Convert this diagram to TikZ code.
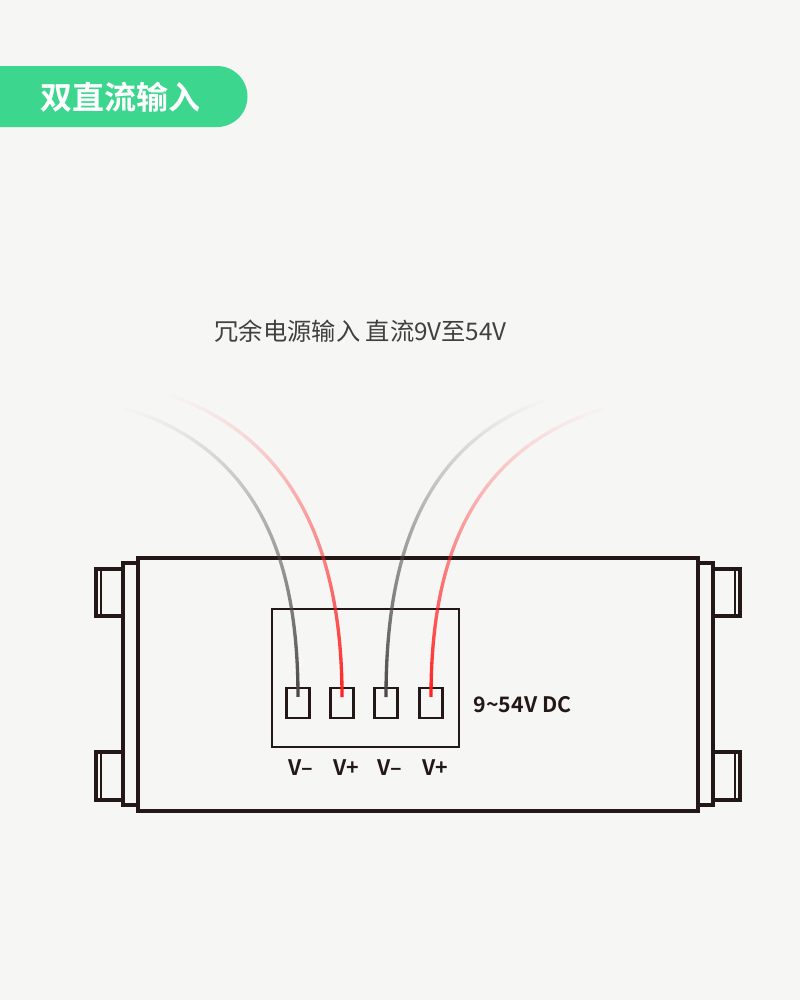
\documentclass[tikz,border=0pt]{standalone}
\usepackage{fontspec}
\newfontfamily\cjk{Noto Sans CJK SC}
\newfontfamily\cjkb{Noto Sans CJK SC Bold}
\usetikzlibrary{fadings}
\definecolor{bg}{HTML}{F6F6F5}
\definecolor{tab}{HTML}{3DD68E}
\definecolor{ln}{HTML}{231815}
\definecolor{gw}{HTML}{4A4646}
\definecolor{rw}{HTML}{FF1E1E}
\tikzfading[name=wirefade, top color=transparent!100, middle color=transparent!0, bottom color=transparent!0]
\tikzset{
  body/.style={draw=ln, line width=2.5pt, fill=bg},
  term/.style={draw=ln, line width=2.2pt},
  wire/.style={line width=2.5pt, path fading=wirefade},
  lab/.style={font=\cjkb\fontsize{16pt}{16pt}\selectfont, text=ln}
}
\begin{document}
\begin{tikzpicture}[x=0.75pt,y=-0.75pt]
\fill[bg] (0,0) rectangle (800,1000);
\useasboundingbox (0,0) rectangle (800,1000);
% tab
\fill[tab] (0,66) -- (217,66) arc[start angle=-90,end angle=90,radius=30.5] -- (0,127) -- cycle;
\node[font=\cjkb\fontsize{24pt}{24pt}\selectfont, text=white, anchor=west] (tabtxt) at (36,97) {双直流输入};
\node[font=\cjk\fontsize{18.2pt}{19pt}\selectfont, text=black!75, anchor=west] (title) at (210,331) {冗余电源输入 直流9V至54V};
% side connectors
\foreach \y/\h in {569/616,752/800}{
  \draw[body] (96,\y) rectangle (123,\h);
  \draw[term] (101,\y) -- (101,\h);
  \draw[body] (740,\y) rectangle (713,\h);
  \draw[term] (735,\y) -- (735,\h);
}
\draw[body] (123,563) rectangle (138,805);
\draw[body] (698,563) rectangle (713,805);
\draw[body] (138,558) rectangle (698,811);
\draw[term] (272,609) rectangle (459,747);
% terminals
\foreach \n/\x in {a/298,b/342,c/386,d/431}{
  \node[term, minimum width=17.5pt, minimum height=22.5pt, inner sep=0pt] (\n) at (\x,703) {};
  \coordinate (\n e) at (\x,697);
}
\coordinate (sa) at (125,408);
\coordinate (sb) at (170,395);
\coordinate (sc) at (545,400);
\coordinate (sd) at (605,408);
\draw[wire, gw] (sa) .. controls (260,450) and (298,560) .. (ae);
\draw[wire, rw] (sb) .. controls (300,440) and (342,560) .. (be);
\draw[wire, gw] (sc) .. controls (420,445) and (386,560) .. (ce);
\draw[wire, rw] (sd) .. controls (470,450) and (431,560) .. (de);
\node[lab] (la) at (301,768) {V–};
\node[lab] (lb) at (346,768) {V+};
\node[lab] (lc) at (390,768) {V–};
\node[lab] (ld) at (435,768) {V+};
\node[lab, anchor=west] (dc) at (469,705) {9\textasciitilde54V DC};
\end{tikzpicture}
\end{document}
